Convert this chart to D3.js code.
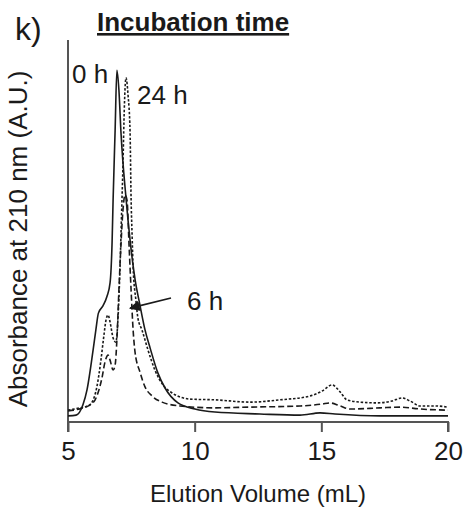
<!DOCTYPE html>
<html>
<head>
<meta charset="utf-8">
<script src="https://cdn.jsdelivr.net/npm/d3@7"></script>
<style>
  body { margin: 0; background: #fff; }
  svg { display: block; font-family: "Liberation Sans", Arial, sans-serif; }
</style>
</head>
<body>
<div id="chart"></div>
<script>
const width = 465;
const height = 509;

// elution volume (mL) and absorbance (arbitrary units, 0-100)
const solidX = [5.0, 5.32, 5.59, 5.75, 5.99, 6.1, 6.2, 6.38, 6.54, 6.66, 6.74, 6.78, 6.86, 6.93, 7.01, 7.09, 7.29, 7.45, 7.65, 7.84, 8.04, 8.24, 8.55, 8.83, 9.34, 10.01, 10.8, 12.58, 14.16, 14.95, 15.54, 17.32, 18.5, 20.0];
const solidY = [1.6, 1.8, 4.5, 8.4, 18.8, 24.1, 28.5, 30.4, 32.9, 36.4, 47, 58.1, 76.4, 92.1, 86.9, 75.9, 58.6, 47.6, 37.2, 30.6, 24.1, 19.4, 12.8, 8.9, 5.0, 3.4, 2.6, 2.1, 1.8, 2.4, 2.1, 1.6, 1.6, 1.6];

const dottedX = [5.0, 5.47, 5.79, 5.95, 6.14, 6.3, 6.42, 6.5, 6.58, 6.66, 6.78, 6.89, 6.97, 7.05, 7.13, 7.17, 7.21, 7.29, 7.37, 7.45, 7.49, 7.53, 7.57, 7.68, 7.76, 7.92, 8.16, 8.43, 8.75, 9.11, 9.82, 10.8, 12.19, 13.37, 14.55, 15.03, 15.42, 15.74, 16.01, 16.53, 17.2, 17.79, 18.19, 18.5, 18.9, 19.49, 20.0];
const dottedY = [3.1, 3.7, 4.2, 5.2, 9.2, 16.2, 22.8, 26.7, 28, 26.2, 22, 20.9, 26.7, 39.8, 58.1, 67.3, 79.1, 90.1, 85.6, 75.9, 58.6, 49, 40.6, 31.9, 27.2, 24.1, 18.8, 13.6, 9.7, 7.6, 6.0, 5.8, 5.2, 5.8, 6.8, 8.1, 9.7, 7.9, 5.8, 5.2, 5.0, 5.5, 6.3, 5.5, 4.2, 4.2, 3.9];

const dashedX = [5.0, 5.59, 5.87, 6.07, 6.22, 6.34, 6.46, 6.58, 6.66, 6.78, 6.86, 6.93, 7.01, 7.09, 7.17, 7.25, 7.33, 7.41, 7.49, 7.57, 7.65, 7.84, 8.04, 8.32, 8.71, 9.42, 10.8, 12.19, 14.16, 15.03, 15.34, 15.74, 16.13, 17.32, 18.11, 18.9, 20.0];
const dashedY = [2.9, 3.7, 4.5, 5.8, 8.4, 11.5, 15.7, 17.5, 16.2, 13.6, 14.9, 21.5, 34.6, 46.3, 55.5, 59.4, 58.1, 46.3, 34.6, 24.1, 18.1, 13.1, 9.2, 6.8, 5.2, 4.2, 3.7, 3.9, 4.2, 4.7, 5.0, 4.2, 3.4, 3.7, 3.9, 3.4, 3.1];

const xTicks = [5, 10, 15, 20];

const margin = { top: 40, right: 17, bottom: 87, left: 68 };

const svg = d3.select('#chart').append('svg')
  .attr('width', width)
  .attr('height', height);

const xScale = d3.scaleLinear().domain([5, 20]).range([margin.left, width - margin.right]);
const yScale = d3.scaleLinear().domain([0, 100]).range([height - margin.bottom, margin.top]);

const ink = '#1a1a1a';
const axisColor = '#555';

// axes
const xAxis = d3.axisBottom(xScale).tickValues(xTicks).tickSize(10).tickPadding(6).tickFormat(d3.format('d'));
const gx = svg.append('g').attr('transform', `translate(0, ${yScale(0)})`).call(xAxis);
gx.select('.domain').attr('stroke', axisColor).attr('stroke-width', 2).attr('d', `M${xScale(5)},10V0H${xScale(20)}V10`);
gx.selectAll('.tick line').attr('stroke', axisColor).attr('stroke-width', 2);
gx.selectAll('.tick text').attr('fill', ink).style('font-size', '26px').attr('dy', '0.85em');

svg.append('line')
  .attr('x1', xScale(5)).attr('x2', xScale(5))
  .attr('y1', margin.top).attr('y2', yScale(0))
  .attr('stroke', axisColor).attr('stroke-width', 2);

// curves
const line = d3.line()
  .x((d) => xScale(d[0]))
  .y((d) => yScale(d[1]))
  .curve(d3.curveMonotoneX);

const series = [
  { xs: dashedX, ys: dashedY, dash: '6,3' },
  { xs: dottedX, ys: dottedY, dash: '2.5,1.8' },
  { xs: solidX, ys: solidY, dash: null },
];

series.forEach((s) => {
  svg.append('path')
    .datum(d3.zip(s.xs, s.ys))
    .attr('d', line)
    .attr('fill', 'none')
    .attr('stroke', ink)
    .attr('stroke-width', 1.6)
    .attr('stroke-dasharray', s.dash);
});

// labels
svg.append('text').attr('x', 15).attr('y', 40).attr('fill', ink)
  .style('font-size', '32px').text('k)');

svg.append('text').attr('x', 97).attr('y', 31).attr('fill', ink)
  .style('font-size', '26px').style('font-weight', 'bold')
  .style('text-decoration', 'underline').text('Incubation time');

svg.append('text').attr('x', 72).attr('y', 83).attr('fill', ink)
  .style('font-size', '26px').text('0 h');
svg.append('text').attr('x', 137).attr('y', 104).attr('fill', ink)
  .style('font-size', '26px').text('24 h');
svg.append('text').attr('x', 187).attr('y', 310).attr('fill', ink)
  .style('font-size', '26px').text('6 h');

// arrow to the 6 h curve
svg.append('defs').append('marker')
  .attr('id', 'arrow').attr('viewBox', '0 0 10 10')
  .attr('refX', 9).attr('refY', 5)
  .attr('markerWidth', 6).attr('markerHeight', 6)
  .attr('orient', 'auto')
  .append('path').attr('d', 'M0,0L10,5L0,10z').attr('fill', ink);

svg.append('line')
  .attr('x1', 171).attr('y1', 298)
  .attr('x2', xScale(7.45)).attr('y2', yScale(29.8))
  .attr('stroke', ink).attr('stroke-width', 1.8)
  .attr('marker-end', 'url(#arrow)');

svg.append('text')
  .attr('transform', `translate(27, ${(margin.top + yScale(0)) / 2 + 8}) rotate(-90)`)
  .attr('text-anchor', 'middle').attr('fill', ink)
  .style('font-size', '26px')
  .text('Absorbance at 210 nm (A.U.)');

svg.append('text')
  .attr('x', (xScale(5) + xScale(20)) / 2).attr('y', 502)
  .attr('text-anchor', 'middle').attr('fill', ink)
  .style('font-size', '24px')
  .text('Elution Volume (mL)');
</script>
</body>
</html>
